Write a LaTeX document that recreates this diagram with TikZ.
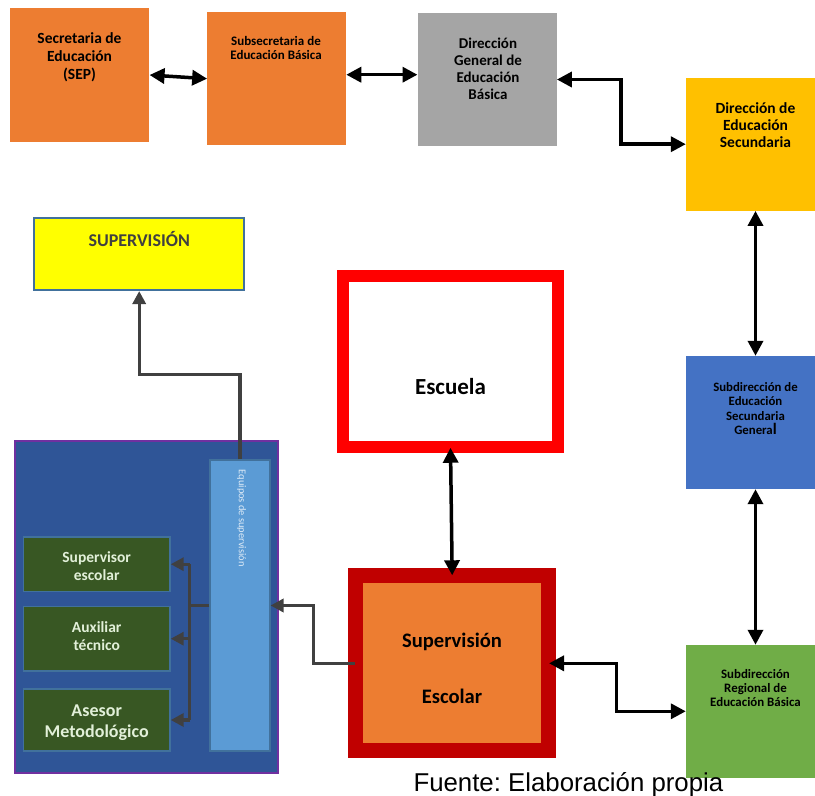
\documentclass[tikz,border=0pt]{standalone}
\usepackage{fontspec}
\setmainfont{Carlito}
\newfontfamily\arialfont{Liberation Sans}
\usetikzlibrary{arrows.meta}
\frenchspacing

\definecolor{boxorange}{HTML}{ED7D31}
\definecolor{boxgray}{HTML}{A5A5A5}
\definecolor{boxgold}{HTML}{FFC000}
\definecolor{boxblue}{HTML}{4472C4}
\definecolor{boxgreen}{HTML}{70AD47}
\definecolor{boxyellow}{HTML}{FFFF00}
\definecolor{schoolred}{HTML}{FF0000}
\definecolor{darkred}{HTML}{C00000}
\definecolor{navy}{HTML}{2F5597}
\definecolor{teamblue}{HTML}{5B9BD5}
\definecolor{edgeblue}{HTML}{41719C}
\definecolor{edgepurple}{HTML}{7030A0}
\definecolor{roleg}{HTML}{385723}
\definecolor{roletext}{HTML}{E2F0D9}
\definecolor{linegray}{HTML}{404040}
\definecolor{paleblue}{HTML}{DEEBF7}

\newcommand\fsz[2]{\fontsize{#1pt}{#2pt}\selectfont}

\tikzset{
  box/.style={rectangle, inner sep=0pt},
  txt/.style={align=center, inner sep=0pt},
  twoway/.style={{Triangle[length=15pt,width=15pt]}-{Triangle[length=15pt,width=15pt]}, line width=3.5pt},
  feed/.style={-{Triangle[length=13pt,width=13pt]}, line width=3.3pt, draw=linegray},
  feedline/.style={line width=3.3pt, draw=linegray},
}

\begin{document}
\begin{tikzpicture}[x=1pt,y=-1pt]
\useasboundingbox (0,0) rectangle (815,796);

\node[box, fill=boxorange, minimum width=139.3pt, minimum height=133.4pt] (sep) at (79.7,75) {};
\node[box, fill=boxorange, minimum width=138.7pt, minimum height=132.7pt] (subsec) at (276.7,78.7) {};
\node[box, fill=boxgray, minimum width=139pt, minimum height=132.4pt] (dgeb) at (487.2,79.5) {};
\node[box, fill=boxgold, minimum width=139pt, minimum height=133pt] (des) at (755.5,144.2) {};
\node[box, fill=boxblue, minimum width=139pt, minimum height=133pt] (subgen) at (755.5,422.5) {};
\node[box, fill=boxgreen, minimum width=139pt, minimum height=132.7pt] (subreg) at (755.5,711.3) {};

\node[box, fill=boxyellow, draw=edgeblue, line width=2pt, minimum width=209.7pt, minimum height=72.3pt] (superv) at (139.2,253.9) {};
\node[box, fill=white, draw=schoolred, line width=12pt, minimum width=215.6pt, minimum height=170.7pt] (escuela) at (450.5,361.4) {};
\node[box, fill=boxorange, draw=darkred, line width=15pt, minimum width=192.7pt, minimum height=175pt] (supesc) at (452.2,663.3) {};

\node[box, fill=navy, draw=edgepurple, line width=2pt, minimum width=263.3pt, minimum height=332pt] (grupo) at (146.7,607) {};
\node[box, fill=teamblue, draw=edgeblue, line width=2pt, minimum width=59.2pt, minimum height=290.4pt] (equipos) at (239.9,605.5) {};
\node[box, fill=roleg, draw=edgeblue, line width=1.5pt, minimum width=146.5pt, minimum height=54.8pt] (g1) at (96.7,564.2) {};
\node[box, fill=roleg, draw=edgeblue, line width=1.5pt, minimum width=146.5pt, minimum height=64.5pt] (g2) at (96.7,638.7) {};
\node[box, fill=roleg, draw=edgeblue, line width=1.5pt, minimum width=146.5pt, minimum height=61.9pt] (g3) at (96.7,720) {};

\node[txt, font=\bfseries\fsz{15.5}{18}] (sep-t) at (79.5,57) {Secretaria de\\Educación\\(SEP)};
\node[txt, font=\bfseries\fsz{13}{14}] (subsec-t) at (276,48.4) {Subsecretaria de\\Educación Básica};
\node[txt, font=\bfseries\fsz{15}{17}] (dgeb-t) at (488,68.8) {Dirección\\General de\\Educación\\Básica};
\node[txt, font=\bfseries\fsz{15.5}{17}] (des-t) at (755.5,125.5) {Dirección de\\Educación\\Secundaria};
\node[txt, font=\bfseries\fsz{12.8}{14.5}] (subgen-t) at (755.5,408.7) {Subdirección de\\Educación\\Secundaria\\Genera{\fsz{16}{14.5}l}};
\node[txt, font=\bfseries\fsz{12.9}{14}] (subreg-t) at (755.5,688.2) {Subdirección\\Regional de\\Educación Básica};
\node[txt, text=linegray, font=\bfseries\fsz{18}{20}] (superv-t) at (139.2,239.3) {SUPERVISIÓN};
\node[txt, font=\bfseries\fsz{23}{26}] (escuela-t) at (450.5,386.7) {Escuela};
\node[txt, font=\bfseries\fsz{20.6}{25}] (supesc-t) at (452,668.3) {Supervisión\\[31.7pt]Escolar};
\node[txt, text=roletext, font=\bfseries\fsz{15.5}{18.6}] (g1-t) at (96.7,566) {Supervisor\\escolar};
\node[txt, text=roletext, font=\bfseries\fsz{15.5}{18.3}] (g2-t) at (96.7,635.8) {Auxiliar\\técnico};
\node[txt, text=roletext, font=\bfseries\fsz{18}{20.7}] (g3-t) at (96.7,722.5) {Asesor\\Metodológico};
\node[txt, rotate=-90, text=paleblue, font=\fsz{10.4}{12}] (equipos-t) at (241.7,518.3) {Equipos de supervisión};

\draw[twoway] (sep.east) -- (subsec.west);
\draw[twoway] ([yshift=4pt]subsec.east) -- ([yshift=4pt]subsec.east -| dgeb.west);
\draw[twoway] (dgeb.east) -- ++(64.3,0) |- (des.west);
\draw[twoway] (des.south) -- (subgen.north);
\draw[twoway] (subgen.south) -- (subreg.north);
\draw[twoway] (subreg.west) -- ++(-69.3,0) |- ([xshift=-7pt]supesc.east);
\draw[twoway] ([yshift=5pt]escuela.south) -- ([yshift=-7pt]supesc.north);

\draw[feed] ([xshift=7pt]supesc.west) -- ++(-42,0) |- (equipos.east);
\draw[feed] (equipos.north) -- ++(0,-84.5) -| (superv.south);
\draw[feedline] (equipos.west) -- ++(-19.5,0) coordinate (bus);
\draw[feedline] (bus |- g1.east) -- (bus |- g3.east);
\foreach \g in {g1,g2,g3}
  \draw[feed] (bus |- \g.east) -- (\g.east);

\node[anchor=base west, inner sep=0pt, font=\arialfont\fsz{25.8}{30}] (fuente) at (413.3,791.7) {Fuente: Elaboración propia};
\end{tikzpicture}
\end{document}
